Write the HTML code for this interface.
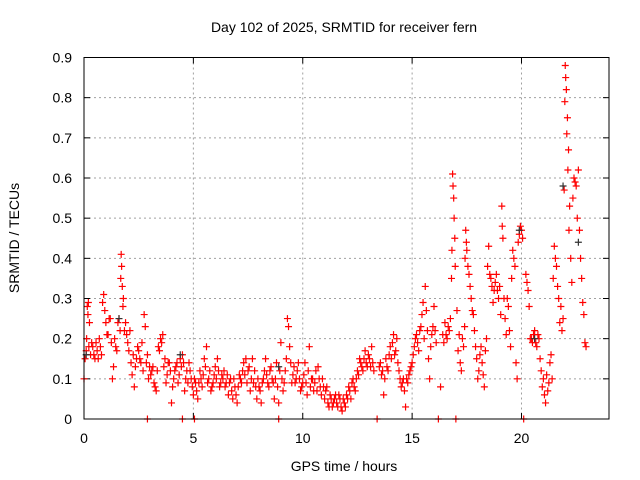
<!DOCTYPE html>
<html><head><meta charset="utf-8"><style>
body{margin:0;background:#fff;}
svg{display:block;font-family:"Liberation Sans",sans-serif;}
</style></head><body>
<svg id="chart" width="640" height="480" viewBox="0 0 640 480">
<rect width="640" height="480" fill="#fff"/>
<text x="344" y="32" font-size="14" text-anchor="middle">Day 102 of 2025, SRMTID for receiver fern</text>
<text transform="translate(19,238) rotate(-90)" font-size="14" text-anchor="middle">SRMTID / TECUs</text>
<text x="344" y="471" font-size="14" text-anchor="middle">GPS time / hours</text>
<g id="grid"></g>
<g id="ticks"></g>
<g id="marks"></g>
<g id="marksb"></g>
<rect x="84" y="57.5" width="525" height="361.5" fill="none" stroke="#000" stroke-width="1"/>
</svg>
<script>
const xTicks=[0,5,10,15,20];
const yTicks=[0,0.1,0.2,0.3,0.4,0.5,0.6,0.7,0.8,0.9];
const yTickLabels=["0","0.1","0.2","0.3","0.4","0.5","0.6","0.7","0.8","0.9"];
const redHours=[0.0,0.1,0.15,0.2,0.25,0.3,0.4,0.5,0.6,0.7,0.8,0.85,0.9,1.0,1.1,1.2,1.3,1.35,1.4,1.5,1.6,1.7,1.72,1.75,1.8,1.85,1.9,2.0,2.1,2.2,2.3,2.4,2.5,2.6,2.7,2.75,2.8,2.9,3.0,3.1,3.2,3.3,3.4,3.5,3.6,3.7,3.8,3.9,4.0,4.1,4.2,4.3,4.4,4.5,4.6,4.7,4.8,4.9,5.0,5.1,5.2,5.3,5.4,5.5,5.6,5.7,5.8,5.9,6.0,6.1,6.2,6.3,6.4,6.5,6.6,6.7,6.8,6.9,7.0,7.1,7.2,7.3,7.4,7.5,7.6,7.7,7.8,7.9,8.0,8.1,8.2,8.3,8.4,8.5,8.6,8.7,8.8,8.9,9.0,9.1,9.2,9.3,9.35,9.4,9.5,9.6,9.7,9.8,9.9,10.0,10.1,10.2,10.3,10.4,10.5,10.6,10.7,10.8,10.9,11.0,11.1,11.2,11.3,11.4,11.5,11.6,11.7,11.8,11.9,12.0,12.1,12.2,12.3,12.4,12.5,12.6,12.7,12.8,12.9,13.0,13.1,13.2,13.4,13.5,13.6,13.7,13.8,13.9,14.0,14.1,14.2,14.3,14.4,14.5,14.6,14.7,14.8,14.9,15.0,15.1,15.2,15.3,15.4,15.5,15.6,15.7,15.8,15.9,16.0,16.1,16.2,16.3,16.4,16.5,16.6,16.7,16.8,16.85,16.9,16.95,17.0,17.05,17.1,17.2,17.3,17.4,17.45,17.5,17.6,17.7,17.8,17.9,18.0,18.1,18.2,18.3,18.4,18.5,18.6,18.7,18.8,18.9,19.0,19.1,19.15,19.2,19.3,19.4,19.5,19.6,19.7,19.8,19.9,20.0,20.1,20.2,20.3,20.4,20.5,20.6,20.7,20.8,20.9,21.0,21.1,21.2,21.3,21.4,21.5,21.6,21.7,21.8,21.9,22.0,22.05,22.1,22.15,22.2,22.3,22.4,22.5,22.6,22.7,22.8,22.9,2.9,4.5,5.05,8.9];
const redValues=[0.10,0.17,0.28,0.29,0.24,0.16,0.18,0.15,0.17,0.20,0.16,0.29,0.31,0.24,0.21,0.25,0.10,0.13,0.20,0.17,0.25,0.41,0.38,0.33,0.30,0.22,0.24,0.19,0.22,0.11,0.08,0.15,0.17,0.14,0.12,0.26,0.23,0.16,0.13,0.12,0.09,0.07,0.18,0.20,0.21,0.15,0.11,0.14,0.04,0.10,0.13,0.09,0.15,0.16,0.07,0.12,0.14,0.10,0.06,0.09,0.05,0.12,0.08,0.15,0.18,0.10,0.07,0.09,0.13,0.15,0.08,0.11,0.12,0.09,0.06,0.10,0.05,0.08,0.04,0.11,0.09,0.14,0.15,0.12,0.07,0.15,0.12,0.05,0.08,0.04,0.10,0.15,0.09,0.12,0.10,0.05,0.14,0.04,0.19,0.07,0.12,0.25,0.23,0.18,0.09,0.13,0.10,0.14,0.07,0.09,0.14,0.06,0.18,0.10,0.07,0.12,0.13,0.08,0.10,0.05,0.08,0.03,0.05,0.04,0.06,0.03,0.05,0.02,0.04,0.06,0.08,0.05,0.10,0.07,0.12,0.15,0.13,0.15,0.14,0.16,0.13,0.14,0.00,0.13,0.11,0.06,0.15,0.12,0.18,0.19,0.16,0.20,0.12,0.08,0.10,0.03,0.09,0.12,0.14,0.18,0.21,0.17,0.23,0.29,0.33,0.22,0.10,0.21,0.28,0.19,0.00,0.08,0.21,0.24,0.20,0.22,0.35,0.61,0.55,0.45,0.00,0.27,0.17,0.14,0.20,0.23,0.47,0.42,0.36,0.30,0.26,0.18,0.10,0.16,0.14,0.08,0.20,0.43,0.35,0.29,0.34,0.32,0.33,0.53,0.45,0.30,0.21,0.28,0.18,0.42,0.38,0.10,0.46,0.47,0.00,0.36,0.32,0.20,0.19,0.22,0.18,0.20,0.12,0.10,0.04,0.07,0.14,0.10,0.43,0.38,0.30,0.28,0.25,0.88,0.82,0.75,0.67,0.53,0.34,0.60,0.58,0.62,0.40,0.29,0.19,0.00,0.00,0.00,0.00];
const redHours2=[0.05,0.12,0.18,0.22,0.35,0.45,0.55,0.65,0.75,0.95,1.05,1.15,1.25,1.45,1.55,1.65,1.68,1.78,1.95,2.05,2.15,2.25,2.35,2.45,2.55,2.65,2.85,2.95,3.05,3.15,3.25,3.35,3.45,3.55,3.65,3.75,3.85,3.95,4.05,4.15,4.25,4.35,4.45,4.55,4.65,4.75,4.85,4.95,5.05,5.15,5.25,5.35,5.45,5.55,5.65,5.75,5.85,5.95,6.05,6.15,6.25,6.35,6.45,6.55,6.65,6.75,6.85,6.95,7.05,7.15,7.25,7.35,7.45,7.55,7.65,7.75,7.85,7.95,8.05,8.15,8.25,8.35,8.45,8.55,8.65,8.75,8.85,8.95,9.05,9.15,9.25,9.45,9.55,9.65,9.75,9.85,9.95,10.05,10.15,10.25,10.35,10.45,10.55,10.65,10.75,10.85,10.95,11.05,11.15,11.25,11.35,11.45,11.55,11.65,11.75,11.85,11.95,12.05,12.15,12.25,12.35,12.45,12.55,12.65,12.75,12.85,12.95,13.05,13.15,13.25,13.55,13.65,13.75,13.85,13.95,14.05,14.15,14.25,14.35,14.45,14.55,14.65,14.75,14.85,14.95,15.05,15.15,15.25,15.35,15.45,15.55,15.65,15.75,15.85,15.95,16.05,16.45,16.55,16.65,16.75,16.82,16.87,16.92,16.97,17.15,17.25,17.35,17.42,17.48,17.55,17.65,17.75,17.85,17.95,18.05,18.15,18.25,18.35,18.45,18.55,18.65,18.75,18.85,18.95,19.05,19.12,19.25,19.35,19.45,19.55,19.65,19.75,19.85,19.95,20.05,20.25,20.35,20.45,20.55,20.65,20.75,20.85,20.95,21.05,21.15,21.25,21.35,21.45,21.55,21.65,21.75,21.85,21.95,21.98,22.02,22.07,22.12,22.17,22.25,22.35,22.45,22.55,22.65,22.75,22.85,22.95];
const redValues2=[0.15,0.20,0.26,0.18,0.19,0.16,0.19,0.15,0.18,0.27,0.21,0.25,0.19,0.18,0.24,0.22,0.35,0.28,0.21,0.17,0.14,0.16,0.13,0.18,0.15,0.19,0.14,0.10,0.11,0.13,0.08,0.12,0.17,0.19,0.13,0.09,0.14,0.12,0.08,0.12,0.14,0.11,0.13,0.14,0.10,0.09,0.12,0.08,0.10,0.07,0.09,0.10,0.11,0.13,0.09,0.12,0.08,0.11,0.10,0.12,0.09,0.10,0.08,0.11,0.09,0.07,0.10,0.06,0.08,0.10,0.12,0.11,0.09,0.13,0.10,0.09,0.08,0.10,0.07,0.09,0.12,0.11,0.08,0.13,0.09,0.10,0.08,0.12,0.10,0.09,0.15,0.14,0.11,0.09,0.12,0.10,0.08,0.11,0.09,0.12,0.08,0.10,0.09,0.07,0.10,0.06,0.08,0.07,0.04,0.06,0.03,0.05,0.04,0.06,0.03,0.05,0.03,0.05,0.07,0.09,0.08,0.10,0.11,0.14,0.12,0.17,0.13,0.15,0.18,0.12,0.14,0.12,0.10,0.13,0.16,0.15,0.21,0.17,0.14,0.10,0.09,0.07,0.10,0.11,0.13,0.16,0.20,0.19,0.22,0.26,0.20,0.27,0.15,0.18,0.23,0.22,0.19,0.21,0.23,0.25,0.42,0.58,0.50,0.38,0.21,0.12,0.18,0.40,0.44,0.38,0.33,0.27,0.22,0.15,0.12,0.18,0.11,0.17,0.38,0.36,0.33,0.32,0.36,0.30,0.26,0.48,0.25,0.30,0.22,0.35,0.40,0.14,0.44,0.48,0.45,0.34,0.28,0.20,0.21,0.19,0.21,0.15,0.08,0.06,0.11,0.09,0.16,0.35,0.40,0.33,0.24,0.22,0.57,0.79,0.85,0.71,0.62,0.47,0.40,0.55,0.59,0.50,0.47,0.35,0.26,0.18];
const blackHours=[0.1,1.6,4.4,8.9,19.9,21.9,22.6,20.6];
const blackValues=[0.16,0.25,0.16,0.13,0.47,0.58,0.44,0.20];

const X0=84,X1=609,Y0=419,Y1=57.5,XMAX=24,YMAX=0.9;
const xs=h=>X0+(h/XMAX)*(X1-X0);
const ys=v=>Y0-(v/YMAX)*(Y0-Y1);
const NS="http://www.w3.org/2000/svg";
function mk(tag,attrs,parent){const e=document.createElementNS(NS,tag);for(const k in attrs)e.setAttribute(k,attrs[k]);parent.appendChild(e);return e;}
const grid=document.getElementById('grid'),ticks=document.getElementById('ticks');
xTicks.forEach(t=>{
  const x=xs(t);
  if(t>0){const g=mk('line',{x1:x,x2:x,y1:Y1,y2:Y0,stroke:'#a0a0a0','stroke-dasharray':'2,3'},grid);
  
  }
  mk('line',{x1:x,x2:x,y1:Y0,y2:Y0-6,stroke:'#000'},ticks);
  mk('line',{x1:x,x2:x,y1:Y1,y2:Y1+6,stroke:'#000'},ticks);
  const l=mk('text',{x:x,y:443,'font-size':14,'text-anchor':'middle'},ticks);
  l.textContent=t;
  
  
});
yTicks.forEach((t,i)=>{
  const y=ys(t);
  if(t>0&&t<0.9){const g=mk('line',{x1:X0,x2:X1,y1:y,y2:y,stroke:'#a0a0a0','stroke-dasharray':'2,3'},grid);
  
  }
  mk('line',{x1:X0,x2:X0+6,y1:y,y2:y,stroke:'#000'},ticks);
  mk('line',{x1:X1,x2:X1-6,y1:y,y2:y,stroke:'#000'},ticks);
  const l=mk('text',{x:72,y:y+5,'font-size':14,'text-anchor':'end'},ticks);
  l.textContent=yTickLabels[i];
  
  
});
function plus(h,v,col,parent){
  const x=xs(h),y=ys(v);
  const p=mk('path',{d:`M${x-3.5},${y}H${x+3.5}M${x},${y-3.5}V${y+3.5}`,stroke:col,'stroke-width':1.2,fill:'none'},parent);
  
  
}
const mr=document.getElementById('marks'),mb=document.getElementById('marksb');
redHours.forEach((h,i)=>plus(h,redValues[i],'#ff0000',mr));
redHours2.forEach((h,i)=>plus(h,redValues2[i],'#ff0000',mr));
blackHours.forEach((h,i)=>plus(h,blackValues[i],'#333',mb));
</script>
</body></html>
